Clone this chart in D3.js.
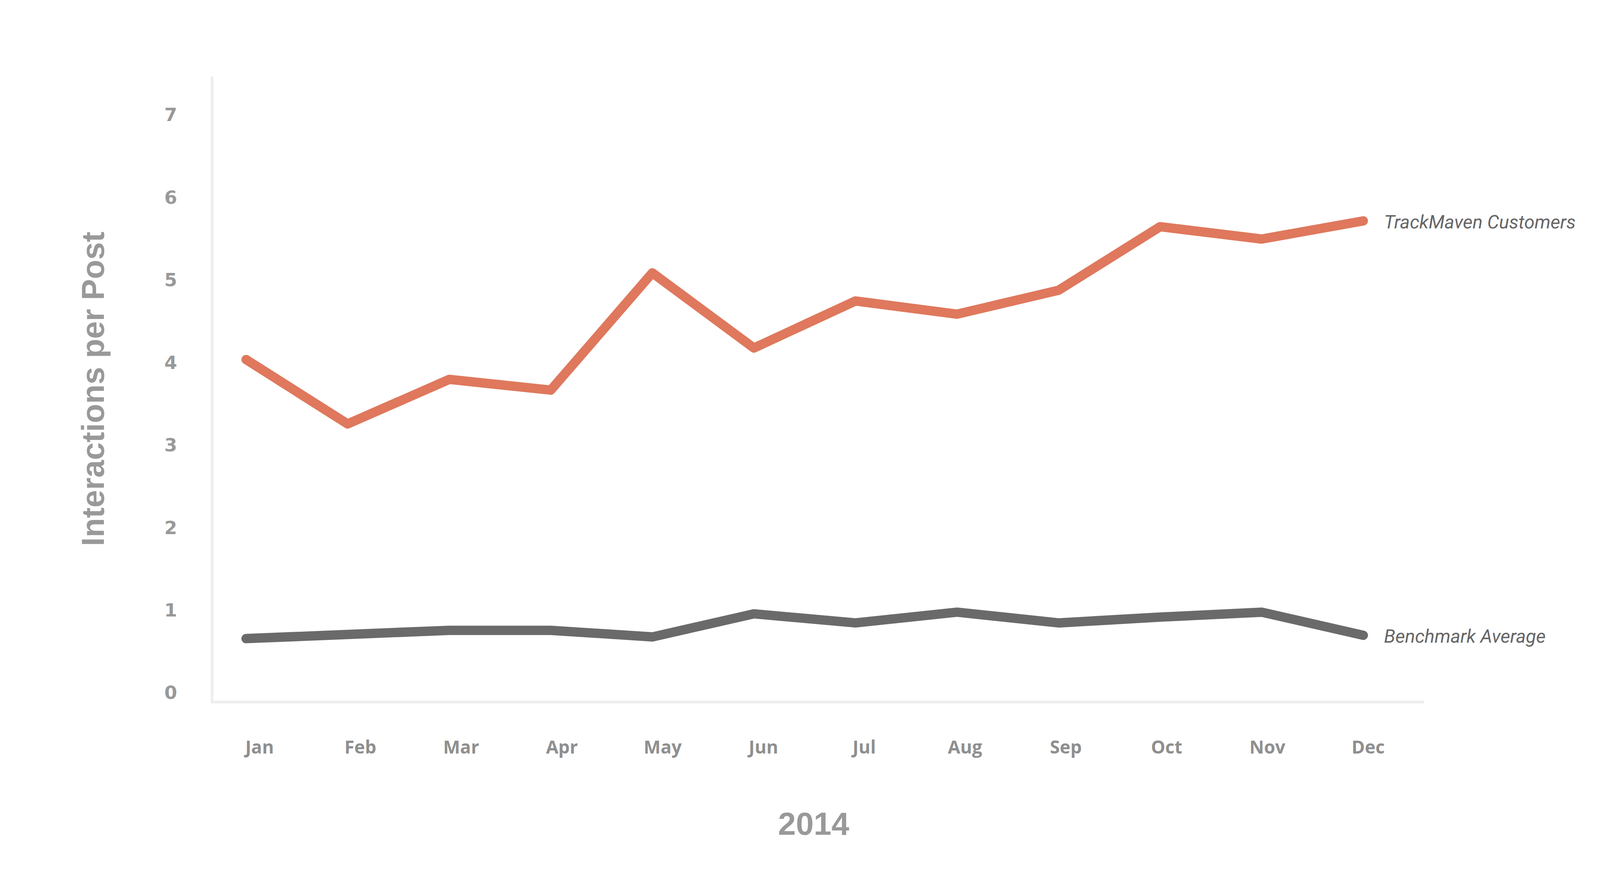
<!DOCTYPE html>
<html>
<head>
<meta charset="utf-8">
<script src="https://cdn.jsdelivr.net/npm/d3@7"></script>
<style>
  html, body { margin: 0; padding: 0; background: #fff; }
  svg { display: block; }
</style>
</head>
<body>
<div id="chart"></div>
<script>
// --------------------------------------------
// DONNEES
// --------------------------------------------
const months = ["Jan", "Feb", "Mar", "Apr", "May", "Jun", "Jul", "Aug", "Sep", "Oct", "Nov", "Dec"];
const customers = [4.03, 3.25, 3.79, 3.66, 5.08, 4.17, 4.74, 4.58, 4.87, 5.64, 5.49, 5.71];
const benchmark = [0.65, 0.7, 0.75, 0.75, 0.67, 0.95, 0.84, 0.97, 0.84, 0.91, 0.97, 0.69];
const yTicks = [0, 1, 2, 3, 4, 5, 6, 7];
const seriesNames = ["TrackMaven Customers", "Benchmark Average"];
const xTitle = "2014";
const yTitle = "Interactions per Post";

// --------------------------------------------
// MISE EN PAGE
// --------------------------------------------
const width = 4279;
const height = 2259;
const frame = { left: 543, right: 3643, top: 199, bottom: 1798 };

const svg = d3.select("#chart")
  .append("svg")
  .attr("width", width)
  .attr("height", height);

// scales
const x = d3.scalePoint().domain(months).range([630, 3490]);
const xLabels = d3.scalePoint().domain(months).range([664, 3502]);
const y = d3.scaleLinear().domain([0, 7]).range([1773, 293]);

// cadre (axes gris clair)
svg.append("path")
  .attr("d", `M${frame.left},${frame.top}V${frame.bottom}H${frame.right}`)
  .attr("fill", "none")
  .attr("stroke", "#eeeeee")
  .attr("stroke-width", 7)
  .attr("stroke-linecap", "round");

// axe Y
const gy = svg.append("g")
  .attr("transform", "translate(437,0)")
  .call(d3.axisLeft(y).tickValues(yTicks).tickSize(0).tickPadding(0).tickFormat(d3.format("d")));
gy.select(".domain").remove();
gy.selectAll("text")
  .attr("x", 0)
  .attr("dy", "0.36em")
  .attr("text-anchor", "middle")
  .attr("fill", "#999999")
  .style("font-family", "'DejaVu Sans', sans-serif")
  .style("font-weight", "bold")
  .style("font-size", "47px");

// axe X
const gx = svg.append("g")
  .attr("transform", "translate(0,1914)")
  .call(d3.axisBottom(xLabels).tickSize(0).tickPadding(0));
gx.select(".domain").remove();
gx.selectAll("text")
  .attr("y", 0)
  .attr("dy", "0.35em")
  .attr("fill", "#8f8f8f")
  .style("font-family", "'Open Sans', sans-serif")
  .style("font-weight", "bold")
  .style("font-size", "46px");

// titres
svg.append("text")
  .attr("x", 2083)
  .attr("y", 2138)
  .attr("text-anchor", "middle")
  .attr("fill", "#999999")
  .style("font-family", "'Liberation Sans', Arial, sans-serif")
  .style("font-weight", "bold")
  .style("font-size", "82px")
  .text(xTitle);

svg.append("text")
  .attr("transform", "translate(266,996) rotate(-90)")
  .attr("text-anchor", "middle")
  .attr("fill", "#999999")
  .style("font-family", "'Liberation Sans', Arial, sans-serif")
  .style("font-weight", "bold")
  .style("font-size", "81px")
  .text(yTitle);

// lignes
const line = d3.line()
  .x((d, i) => x(months[i]))
  .y((d) => y(d));

const series = [
  { name: seriesNames[0], values: customers, color: "#df785d" },
  { name: seriesNames[1], values: benchmark, color: "#6a6a6a" },
];

series.forEach((s) => {
  svg.append("path")
    .datum(s.values)
    .attr("d", line)
    .attr("fill", "none")
    .attr("stroke", s.color)
    .attr("stroke-width", 24)
    .attr("stroke-linecap", "round")
    .attr("stroke-linejoin", "round");

  svg.append("text")
    .attr("x", x(months[months.length - 1]) + 53)
    .attr("y", y(s.values[s.values.length - 1]))
    .attr("dy", "0.4em")
    .attr("fill", "#666666")
    .style("font-family", "Roboto, sans-serif")
    .style("font-style", "italic")
    .style("font-weight", "400")
    .style("font-size", "48px")
    .text(s.name);
});
</script>
</body>
</html>
